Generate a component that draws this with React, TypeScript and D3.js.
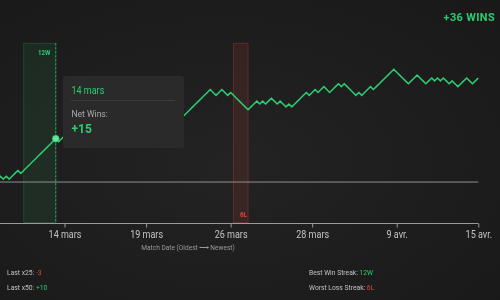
import React, { useEffect, useRef } from 'react';
import * as d3 from 'd3';

// cumulative net wins, one value per match (oldest -> newest)
const netWins = [
  2, 1, 2, 1, 2, 1, 2, 3, 4, 3, 4, 5, 6, 7, 8, 9, 10, 11, 12, 13, 14, 15,
  14, 15, 16, 17, 16, 17, 18, 19, 18, 19, 20, 19, 18, 19, 20, 21, 20, 19,
  20, 21, 22, 21, 20, 21, 22, 21, 20, 21, 22, 23, 22, 21, 22, 23, 24, 23,
  22, 21, 22, 21, 22, 23, 22, 23, 24, 25, 26, 27, 28, 29, 30, 31, 32, 31,
  30, 31, 32, 31, 30, 31, 30, 29, 28, 27, 26, 25, 26, 27, 28, 27, 28, 27,
  28, 29, 28, 27, 28, 27, 26, 27, 26, 27, 28, 29, 30, 31, 30, 31, 32, 31,
  32, 33, 32, 31, 32, 33, 34, 33, 34, 33, 32, 31, 30, 31, 30, 31, 32, 33,
  32, 33, 34, 35, 36, 37, 38, 39, 38, 37, 36, 35, 34, 35, 36, 37, 36, 35,
  34, 35, 36, 35, 36, 35, 36, 35, 34, 35, 34, 33, 34, 35, 36, 35, 34, 35, 36,
];

const tickIdx = [24, 52, 81, 109, 138, 166];
const tickLabels = ['14 mars', '19 mars', '26 mars', '28 mars', '9 avr.', '15 avr.'];

// streaks: [first match, last match]
const winStreak = [10, 21];
const lossStreak = [82, 87];

const hoverIdx = 21;
const hoverDate = '14 mars';

const stats = [
  { label: 'Last x25: ', value: '-3', good: false },
  { label: 'Last x50: ', value: '+10', good: true },
];
const streakStats = [
  { label: 'Best Win Streak: ', value: '12W', good: true },
  { label: 'Worst Loss Streak: ', value: '6L', good: false },
];

const GREEN = '#2ecc71';
const RED = '#e0463a';
const FONT = 'Roboto, sans-serif';

// narrow text: the original uses a condensed face
const CText = ({ x, y, sx = 0.87, anchor = 'start', children, ...rest }: any) => (
  <text transform={`translate(${x},${y}) scale(${sx},1)`} textAnchor={anchor}
    fontFamily={FONT} {...rest}>{children}</text>
);

const App = () => {
  const axisRef = useRef<SVGGElement>(null);
  const width = 500, height = 300;
  const last = netWins.length - 1;

  const x = d3.scaleLinear().domain([0, last]).range([478.3 - last * 2.914, 478.3]);
  const y = d3.scaleLinear().domain([-14, 48]).range([222.5, 43.3]);

  const line = d3.line<number>().x((d, i) => x(i)).y(d => y(d));

  useEffect(() => {
    const g = d3.select(axisRef.current);
    g.selectAll('*').remove();
    g.call(
      d3.axisBottom(x)
        .tickValues(tickIdx)
        .tickFormat((d, i) => tickLabels[i])
        .tickSize(4)
        .tickSizeOuter(0)
    );
    g.select('.domain').remove();
    g.selectAll('.tick line').attr('stroke', '#9a9a9a');
    g.selectAll('.tick text')
      .attr('fill', '#c4c4c4')
      .attr('font-size', 10.5)
      .attr('font-family', FONT)
      .attr('transform', 'scale(0.86,1)');
  }, []);

  const hv = netWins[hoverIdx];
  const base = Math.round(y(-14)) + 0.5;

  return (
    <div style={{ position: 'fixed', left: 0, top: 0 }}>
      <svg width={width} height={height} style={{ display: 'block' }}>
        <defs>
          <radialGradient id="bg" cx="45%" cy="55%" r="75%">
            <stop offset="0%" stopColor="#232323" />
            <stop offset="100%" stopColor="#191919" />
          </radialGradient>
        </defs>
        <rect width={width} height={height} fill="url(#bg)" />

        <CText x={495} y={21} anchor="end" sx={0.95} fill={GREEN} fontWeight="bold"
          fontSize={11.5} letterSpacing={0.4}>+36 WINS</CText>

        {/* streak bands */}
        <rect x={x(winStreak[0])} y={y(48)} width={x(winStreak[1]) - x(winStreak[0])}
          height={y(-14) - y(48)} fill={GREEN} fillOpacity={0.09}
          stroke={GREEN} strokeOpacity={0.22} />
        <CText x={(x(winStreak[0]) + x(winStreak[1])) / 2 + 4.5} y={54.5} anchor="middle"
          fill={GREEN} fontSize={7} fontWeight="bold">12W</CText>
        <rect x={x(lossStreak[0])} y={y(48)} width={x(lossStreak[1]) - x(lossStreak[0])}
          height={y(-14) - y(48)} fill={RED} fillOpacity={0.12}
          stroke={RED} strokeOpacity={0.3} />
        <CText x={(x(lossStreak[0]) + x(lossStreak[1])) / 2 + 2.5} y={216.5} anchor="middle"
          fill={RED} fontSize={7} fontWeight="bold">6L</CText>

        {/* zero line */}
        <line x1={0} x2={x(last)} y1={y(0)} y2={y(0)} stroke="#8f8f8f" strokeWidth={1} />

        <path d={line(netWins) || ''} fill="none" stroke={GREEN} strokeWidth={1.5} />

        {/* hover */}
        <line x1={x(hoverIdx)} x2={x(hoverIdx)} y1={y(48)} y2={y(-14)} stroke={GREEN}
          strokeDasharray="2,2" strokeWidth={1} strokeOpacity={0.8} />
        <circle cx={x(hoverIdx)} cy={y(hv)} r={3.3} fill="#6be39a" stroke={GREEN} strokeWidth={1} />

        <line x1={0} x2={x(last)} y1={base} y2={base} stroke="#9a9a9a" strokeWidth={1.2} />
        <g ref={axisRef} transform={`translate(0,${base})`} />

        <CText x={188} y={250} anchor="middle" fill="#9a9a9a" fontSize={7.5} sx={0.88}>
          Match Date (Oldest ⟶ Newest)
        </CText>

        {stats.map((s, i) => (
          <CText key={s.label} x={7} y={274.5 + i * 15} fontSize={7.5} sx={0.9} fill="#c2c2c2">
            {s.label}<tspan fill={s.good ? GREEN : RED}>{s.value}</tspan>
          </CText>
        ))}
        {streakStats.map((s, i) => (
          <CText key={s.label} x={309} y={274.5 + i * 15} fontSize={7.5} sx={0.9} fill="#c2c2c2">
            {s.label}<tspan fill={s.good ? GREEN : RED}>{s.value}</tspan>
          </CText>
        ))}

        {/* tooltip */}
        <g transform="translate(63,76)">
          <rect width={121} height={72} rx={3} fill="#2a2a2a" />
          <CText x={8.5} y={18} sx={0.9} fill={GREEN} fontSize={10}>{hoverDate}</CText>
          <line x1={8} x2={112} y1={24.5} y2={24.5} stroke="#3c3c3c" />
          <CText x={8.5} y={41} sx={0.9} fill="#a8a8a8" fontSize={9.5}>Net Wins:</CText>
          <CText x={8.5} y={57} sx={1} fill={GREEN} fontSize={12} fontWeight="bold">{`+${hv}`}</CText>
        </g>
      </svg>
    </div>
  );
};

export default App;
